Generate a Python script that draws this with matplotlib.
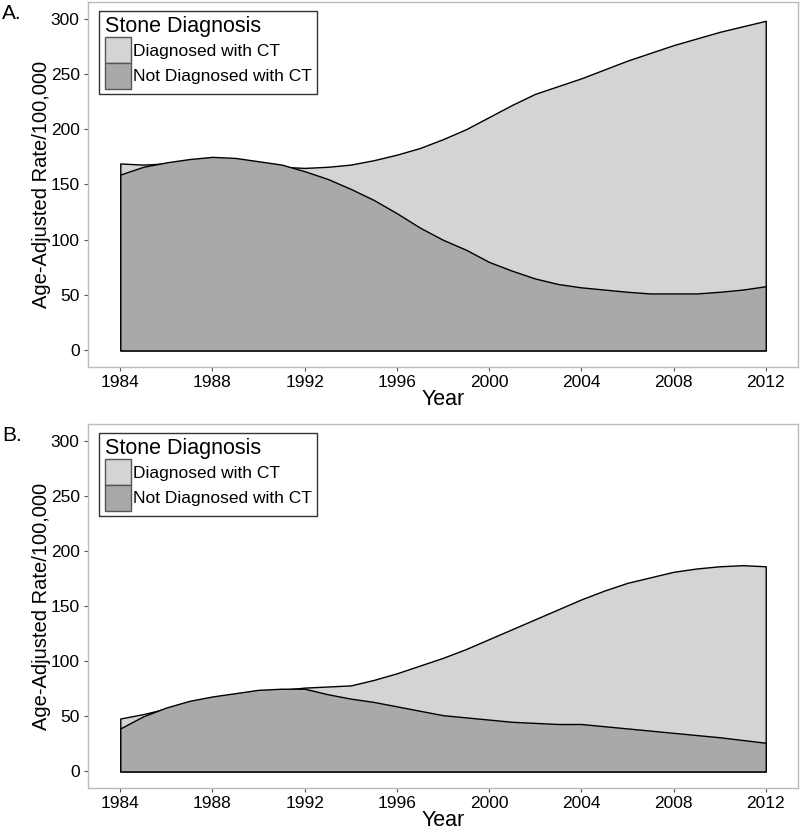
import matplotlib
matplotlib.use("Agg")
import matplotlib.pyplot as plt
from matplotlib.patches import Patch
import numpy as np

plt.rcParams['font.family'] = ['Liberation Sans', 'DejaVu Sans']

years = list(range(1984, 2013))

# panel A
ct_a = [169, 168, 169, 170, 170, 169, 167, 166, 165, 166, 168, 172, 177, 183, 191,
        200, 211, 222, 232, 239, 246, 254, 262, 269, 276, 282, 288, 293, 298]
no_ct_a = [159, 166, 170, 173, 175, 174, 171, 168, 162, 155, 146, 136, 124, 111, 100,
           91, 80, 72, 65, 60, 57, 55, 53, 51.5, 51.5, 51.5, 53, 55, 58]

# panel B
ct_b = [48, 52, 57, 62, 66, 70, 73, 74, 76, 77, 78, 83, 89, 96, 103,
        111, 120, 129, 138, 147, 156, 164, 171, 176, 181, 184, 186, 187, 186]
no_ct_b = [39, 50, 58, 64, 68, 71, 74, 75, 75, 70, 66, 63, 59, 55, 51,
           49, 47, 45, 44, 43, 43, 41, 39, 37, 35, 33, 31, 28.5, 26]

panels = [("A.", ct_a, no_ct_a), ("B.", ct_b, no_ct_b)]
xticks = [1984, 1988, 1992, 1996, 2000, 2004, 2008, 2012]
yticks = [0, 50, 100, 150, 200, 250, 300]

light = '#d4d4d4'
dark = '#a9a9a9'

fig = plt.figure(figsize=(8, 8.32), dpi=100)
axes_pos = [[0.11, 0.5589, 0.8875, 0.4387], [0.11, 0.0529, 0.8875, 0.4375]]

for pos, (tag, ct, no_ct) in zip(axes_pos, panels):
    ax = fig.add_axes(pos)
    ax.fill_between(years, 0, ct, facecolor=light, edgecolor='black', linewidth=1.0, zorder=2)
    ax.fill_between(years, 0, no_ct, facecolor=dark, edgecolor='black', linewidth=1.0, zorder=3)
    ax.set_xlim(1982.6, 2013.4)
    ax.set_ylim(-15, 315)
    ax.set_xticks(xticks)
    ax.set_yticks(yticks)
    ax.tick_params(labelsize=12.5, length=3, width=0.8, color='#555555', labelcolor='black', pad=3)
    for s in ax.spines.values():
        s.set_color('#bbbbbb')
        s.set_linewidth(1.0)
    ax.set_xlabel('Year', fontsize=15.5, labelpad=-1)
    ax.set_ylabel('Age-Adjusted Rate/100,000', fontsize=14.5, labelpad=0)
    handles = [Patch(facecolor=light, edgecolor='#555555', label='Diagnosed with CT'),
               Patch(facecolor=dark, edgecolor='#555555', label='Not Diagnosed with CT')]
    leg = ax.legend(handles=handles, title='Stone Diagnosis', loc='upper left',
                    bbox_to_anchor=(0.016, 0.975), fontsize=12.5, title_fontsize=15.5,
                    frameon=True, fancybox=False, edgecolor='#333333', framealpha=1,
                    handlelength=1.5, handleheight=1.9, labelspacing=0.0,
                    handletextpad=0.15, borderpad=0.3, borderaxespad=0)
    leg._legend_box.align = 'left'
    leg.get_frame().set_linewidth(1.0)
    fig.text(0.003, pos[1] + pos[3] - 0.003, tag, fontsize=15, ha='left', va='top')

fig.savefig('out.png', dpi=100)
